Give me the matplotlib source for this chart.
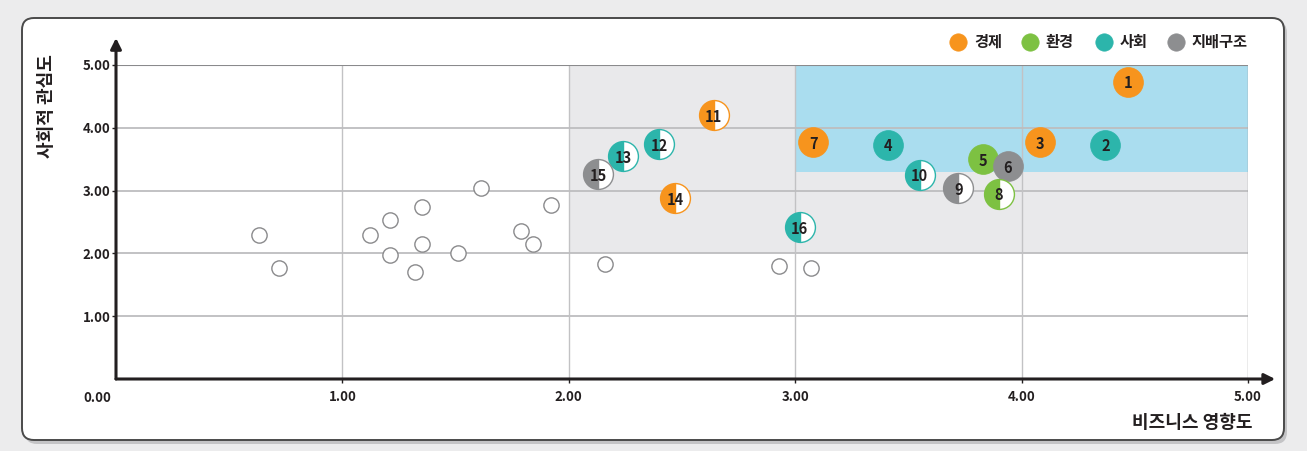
import matplotlib
matplotlib.use('Agg')
import matplotlib.pyplot as plt
from matplotlib.patches import FancyBboxPatch, Rectangle

plt.rcParams['font.family'] = ['Noto Sans CJK KR', 'DejaVu Sans']

# ---- data ----
categories = ['경제', '환경', '사회', '지배구조']
cat_colors = ['#F7941D', '#7DC142', '#2CB5AB', '#8D8E90']

issue_ids = [1, 2, 3, 4, 5, 6, 7, 8, 9, 10, 11, 12, 13, 14, 15, 16]
issue_x = [4.47, 4.37, 4.08, 3.41, 3.83, 3.94, 3.08, 3.90, 3.72, 3.55,
           2.64, 2.40, 2.24, 2.47, 2.13, 3.02]
issue_y = [4.73, 3.73, 3.77, 3.73, 3.50, 3.39, 3.77, 2.95, 3.04, 3.25,
           4.20, 3.74, 3.55, 2.88, 3.26, 2.42]
issue_cat = [0, 2, 0, 2, 1, 3, 0, 1, 3, 2, 0, 2, 2, 0, 3, 2]
issue_half = [False, False, False, False, False, False, False,
              True, True, True, True, True, True, True, True, True]

other_x = [0.63, 0.72, 1.12, 1.21, 1.21, 1.32, 1.35, 1.35, 1.51, 1.61,
           1.79, 1.84, 1.92, 2.16, 2.93, 3.07]
other_y = [2.29, 1.77, 2.29, 2.53, 1.97, 1.70, 2.74, 2.15, 2.01, 3.04,
           2.36, 2.15, 2.77, 1.83, 1.80, 1.77]

tick_vals = [1, 2, 3, 4, 5]
tick_labels = ['1.00', '2.00', '3.00', '4.00', '5.00']

W, H = 1307, 451
fig = plt.figure(figsize=(W / 100, H / 100), dpi=100)
fig.patch.set_facecolor('#ECECED')

# background axes in pixel units
bg = fig.add_axes([0, 0, 1, 1], zorder=0)
bg.set_xlim(0, W)
bg.set_ylim(H, 0)
bg.axis('off')
shadow = FancyBboxPatch((25, 21), 1262, 423, boxstyle='round,pad=0,rounding_size=12',
                        facecolor='#C4C4C6', edgecolor='none')
bg.add_patch(shadow)
panel = FancyBboxPatch((22, 18), 1262, 422, boxstyle='round,pad=0,rounding_size=12',
                       facecolor='white', edgecolor='#4A4A4A', linewidth=1.4)
bg.add_patch(panel)

# legend
leg_cx = [958, 1030, 1104, 1176]
for cx, lab, col in zip(leg_cx, categories, cat_colors):
    bg.plot(cx, 42, 'o', ms=12.5, mfc=col, mec=col, mew=0.5)
    bg.text(cx + 16, 42, lab, ha='left', va='center', fontsize=11,
            fontweight='bold', color='#231F20')

bg.text(46, 106, '사회적 관심도', rotation=90, ha='center', va='center',
        fontsize=13, fontweight='bold', color='#231F20')
bg.text(1253, 422, '비즈니스 영향도', ha='right', va='center',
        fontsize=13, fontweight='bold', color='#231F20')
bg.text(97, 398, '0.00', ha='center', va='center', fontsize=9.5,
        fontweight='bold', color='#231F20')

# main axes
ax = fig.add_axes([116 / W, 1 - 379 / H, 1132 / W, 314 / H], zorder=1)
ax.set_facecolor('none')
ax.set_xlim(0, 5)
ax.set_ylim(0, 5)
for s in ax.spines.values():
    s.set_visible(False)

ax.add_patch(Rectangle((2, 2), 3, 3, facecolor='#E9E9EB', edgecolor='none', zorder=0))
ax.add_patch(Rectangle((3, 3.29), 2, 1.71, facecolor='#AADDEF', edgecolor='none', zorder=0.5))

for v in [1, 2, 3, 4]:
    ax.axvline(v, color='#C2C2C4', lw=1.0, zorder=1)
    ax.axhline(v, color='#BDBDBF', lw=1.3, zorder=1)
ax.axhline(5, color='#8A8A8C', lw=1.5, zorder=1)
ax.axvline(5, color='#9A9A9C', lw=1.0, zorder=1)

ax.set_xticks(tick_vals)
ax.set_xticklabels(tick_labels)
ax.set_yticks(tick_vals)
ax.set_yticklabels(tick_labels)
ax.tick_params(axis='both', direction='out', length=3, width=1, color='#231F20',
               labelsize=9.5, labelcolor='#231F20')
ax.tick_params(axis='x', pad=5)
ax.tick_params(axis='y', pad=1)
for lab in ax.get_xticklabels() + ax.get_yticklabels():
    lab.set_fontweight('bold')

# axis arrows
ax.annotate('', xy=(5.12, 0), xytext=(0, 0), xycoords='data',
            arrowprops=dict(arrowstyle='-|>', lw=2.2, color='#231F20',
                            mutation_scale=16, shrinkA=0, shrinkB=0),
            annotation_clip=False, zorder=5)
ax.annotate('', xy=(0, 5.43), xytext=(0, 0), xycoords='data',
            arrowprops=dict(arrowstyle='-|>', lw=2.2, color='#231F20',
                            mutation_scale=16, shrinkA=0, shrinkB=0),
            annotation_clip=False, zorder=5)

# other issues
ax.plot(other_x, other_y, 'o', ms=11, mfc='white', mec='#8A8A8C', mew=1.0,
        linestyle='none', zorder=3)

# key issues
for i, xv, yv, c, h in zip(issue_ids, issue_x, issue_y, issue_cat, issue_half):
    col = cat_colors[c]
    if h:
        ax.plot(xv, yv, 'o', ms=21.5, mfc=col, mfcalt='white', fillstyle='left',
                mec=col, mew=1.0, zorder=4, clip_on=False)
    else:
        ax.plot(xv, yv, 'o', ms=21.5, mfc=col, mec=col, mew=0.5, zorder=4,
                clip_on=False)
    ax.text(xv, yv, str(i), ha='center', va='center_baseline', fontsize=10.5,
            fontweight='bold', color='#231F20', zorder=6)

fig.savefig('out.png', dpi=100, facecolor=fig.get_facecolor())
